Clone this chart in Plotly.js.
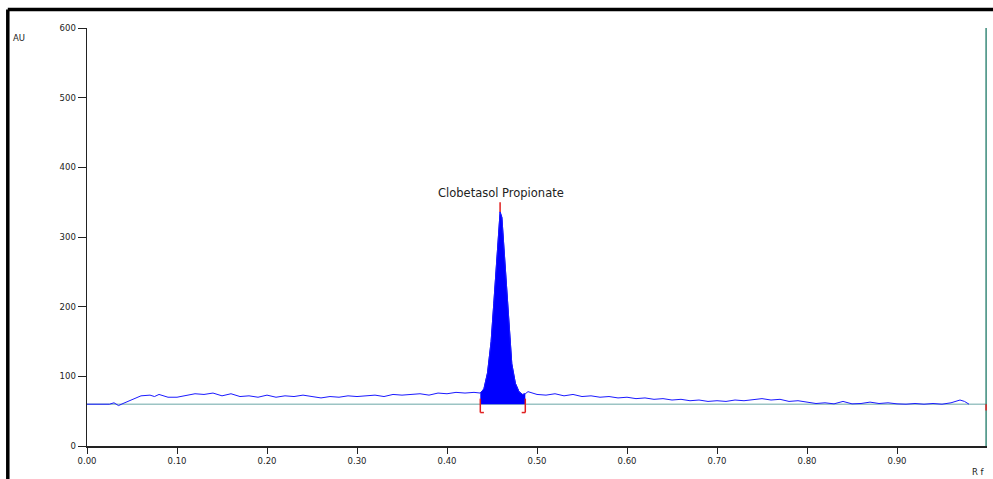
<!DOCTYPE html>
<html>
<head>
<meta charset="utf-8">
<script src="https://cdn.plot.ly/plotly-3.0.1.min.js"></script>
<style>html,body{margin:0;padding:0;background:#fff;}#chart{width:993px;height:479px;}</style>
</head>
<body>
<div id="chart"></div>
<script>
// densitogram: Rf vs AU
const rf = [0.00,0.01,0.02,0.025,0.03,0.035,0.04,0.05,0.06,0.07,0.075,0.08,0.09,0.10,0.11,0.12,0.13,0.14,0.15,0.16,0.17,0.18,0.19,0.20,
  0.21,0.22,0.23,0.24,0.25,0.26,0.27,0.28,0.29,0.30,0.31,0.32,0.33,0.34,0.35,0.36,0.37,0.38,0.39,0.40,0.41,0.42,0.43,0.437,
  0.441,0.445,0.449,0.452,0.455,0.457,0.459,0.461,0.463,0.466,0.469,0.472,0.476,0.480,0.484,0.487,
  0.49,0.50,0.51,0.52,0.53,0.54,0.55,0.56,0.57,0.58,0.59,0.60,0.61,0.62,0.63,0.64,0.65,0.66,0.67,0.68,0.69,0.70,
  0.71,0.72,0.73,0.74,0.75,0.76,0.77,0.78,0.79,0.80,0.81,0.82,0.83,0.84,0.85,0.86,0.87,0.88,0.89,0.90,
  0.91,0.92,0.93,0.94,0.95,0.96,0.97,0.975,0.98];
const au = [60,60,61,60,62,58,61,66,72,73,71,74,70,70,72,75,74,76,72,75,71,72,70,73,
  70,72,71,73,71,69,71,70,72,71,72,73,71,74,73,74,75,73,76,75,77,76,77,76,
  82,105,150,205,265,310,336,328,290,225,165,118,90,78,74,75,
  78,74,73,75,72,74,71,72,70,71,69,70,68,69,67,68,66,67,65,66,64,65,
  64,66,65,67,68,66,67,64,65,63,61,62,60.5,64,60.5,61,63,61,62,60.5,
  60,61,60,61,60,62,66,64,60];
const baselineAU = 60;
const peakStart = 0.437, peakEnd = 0.487, peakApex = 0.459, peakTop = 336;
const peakName = 'Clobetasol Propionate';
const xTicks = [0,0.1,0.2,0.3,0.4,0.5,0.6,0.7,0.8,0.9];

const pk = rf.map((x,i)=>[x,au[i]]).filter(p=>p[0]>=peakStart && p[0]<=peakEnd);

const traces = [
  {x:[0,1], y:[baselineAU,baselineAU], mode:'lines', line:{color:'#9cc4c4',width:1.5}, hoverinfo:'skip'},
  {x:pk.map(p=>p[0]), y:pk.map(()=>baselineAU), mode:'lines', line:{width:0}, hoverinfo:'skip'},
  {x:pk.map(p=>p[0]), y:pk.map(p=>p[1]), mode:'lines', fill:'tonexty', fillcolor:'#0000ff', line:{color:'#0000ff',width:1}},
  {x:rf, y:au, mode:'lines', line:{color:'#1a1aff',width:1}}
];

const red = {color:'#e02020',width:1.5};
const shapes = [
  // frame
  {type:'line',xref:'paper',yref:'paper',x0:-0.088,x1:-0.088,y0:-0.1,y1:1.044,line:{color:'#000',width:3.5}},
  {type:'line',xref:'paper',yref:'paper',x0:-0.088,x1:1.02,y0:1.044,y1:1.044,line:{color:'#000',width:3.5}},
  // right green line
  {type:'line',xref:'x',yref:'paper',x0:0.999,x1:0.999,y0:0,y1:1,line:{color:'#3a8a7a',width:1.5}},
  {type:'line',xref:'x',yref:'y',x0:0.999,x1:0.999,y0:baselineAU,y1:baselineAU-9,line:red},
  // apex marker
  {type:'line',x0:peakApex,x1:peakApex,y0:peakTop,y1:peakTop+14,line:red},
  // brackets
  {type:'line',x0:peakStart,x1:peakStart,y0:baselineAU+8,y1:baselineAU-12,line:red},
  {type:'line',x0:peakStart,x1:peakStart+0.004,y0:baselineAU-12,y1:baselineAU-12,line:red},
  {type:'line',x0:peakEnd,x1:peakEnd,y0:baselineAU+8,y1:baselineAU-12,line:red},
  {type:'line',x0:peakEnd-0.004,x1:peakEnd,y0:baselineAU-12,y1:baselineAU-12,line:red}
];

const tickFont = {family:'DejaVu Sans, Verdana, sans-serif', size:8.5, color:'#222'};
const layout = {
  width:993, height:479,
  margin:{l:87,r:6,t:28,b:33},
  paper_bgcolor:'#fff', plot_bgcolor:'#fff',
  showlegend:false,
  font:tickFont,
  xaxis:{range:[0,1], tickvals:xTicks, ticktext:xTicks.map(v=>v.toFixed(2)), ticks:'outside', ticklen:6,
    tickcolor:'#222', showline:true, linecolor:'#222', linewidth:1.5, showgrid:false, zeroline:false, tickfont:tickFont},
  yaxis:{range:[0,600], dtick:100, ticks:'outside', ticklen:8, tickcolor:'#222', showline:true, linecolor:'#222',
    linewidth:1.5, showgrid:false, zeroline:false, tickfont:tickFont},
  shapes,
  annotations:[
    {x:peakApex+0.0005, y:peakTop+14, xref:'x', yref:'y', text:peakName, showarrow:false, yanchor:'bottom',
      font:{family:'DejaVu Sans, Verdana, sans-serif', size:11.5, color:'#222'}},
    {x:-0.085, y:0.977, xref:'paper', yref:'paper', text:'AU', showarrow:false, xanchor:'left', yanchor:'middle', font:tickFont},
    {x:0.99, y:-0.045, xref:'paper', yref:'paper', text:'R f', showarrow:false, xanchor:'center', yanchor:'top', font:tickFont}
  ]
};

Plotly.newPlot('chart', traces, layout, {displayModeBar:false, staticPlot:true});
</script>
</body>
</html>
